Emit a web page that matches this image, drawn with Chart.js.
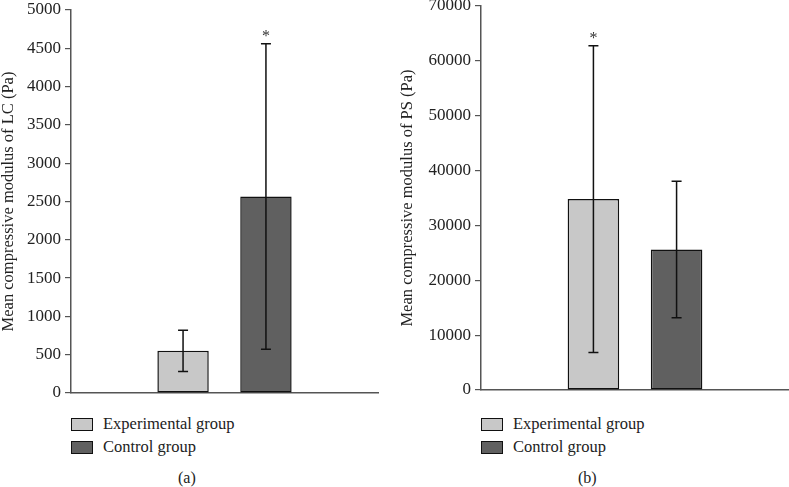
<!DOCTYPE html>
<html>
<head>
<meta charset="utf-8">
<script src="https://cdn.jsdelivr.net/npm/chart.js@4.4.1/dist/chart.umd.min.js"></script>
<style>
  html, body { margin: 0; padding: 0; background: #fff; }
  body { width: 789px; height: 487px; position: relative; overflow: hidden; font-family: 'Liberation Serif', serif; color: #222; }
  canvas { position: absolute; top: 0; }
  #chartA { left: 0; }
  #chartB { left: 390px; }
  .legend { position: absolute; font-size: 16.5px; }
  .legend .row { position: relative; height: 23px; }
  .legend .box { position: absolute; left: 0; top: 0; width: 22px; height: 13px; box-sizing: border-box; border: 1.5px solid #111; }
  .legend .txt { position: absolute; left: 32px; top: -4px; white-space: nowrap; }
  .caption { position: absolute; top: 469px; font-size: 16px; }
</style>
</head>
<body>
<canvas id="chartA" width="390" height="400"></canvas>
<canvas id="chartB" width="399" height="400"></canvas>
<div class="legend" id="legA" style="left:71px; top:418px;"></div>
<div class="legend" id="legB" style="left:481px; top:418px;"></div>
<div class="caption" style="left:178px;">(a)</div>
<div class="caption" style="left:578px;">(b)</div>
<script>
// groupes et couleurs
const groups = ['Experimental group', 'Control group'];
const colors = ['#c8c8c8', '#606060'];

// LC (panneau a)
const lcMeans = [550, 2565];
const lcSD = [268, 1995];
const lcStar = [false, true];

// PS (panneau b)
const psMeans = [34800, 25600];
const psSD = [27950, 12450];
const psStar = [true, false];

// Barres d'erreur + astérisque
const errorBars = {
    id: 'errorBars',
    afterDatasetsDraw(chart, args, opts) {
        const ctx = chart.ctx;
        const y = chart.scales.y;
        ctx.save();
        ctx.strokeStyle = '#111';
        ctx.lineWidth = 1.5;
        chart.data.datasets.forEach((ds, i) => {
            const bar = chart.getDatasetMeta(i).data[0];
            const x = bar.x;
            const top = y.getPixelForValue(opts.means[i] + opts.sd[i]);
            const bot = y.getPixelForValue(opts.means[i] - opts.sd[i]);
            ctx.beginPath();
            ctx.moveTo(x, top); ctx.lineTo(x, bot);
            ctx.moveTo(x - 5, top); ctx.lineTo(x + 5, top);
            ctx.moveTo(x - 5, bot); ctx.lineTo(x + 5, bot);
            ctx.stroke();
            if (opts.star[i]) {
                ctx.fillStyle = '#333';
                ctx.font = '16px "Liberation Serif"';
                ctx.textAlign = 'center';
                ctx.textBaseline = 'middle';
                ctx.fillText('*', x, top - 7);
            }
        });
        ctx.restore();
    }
};

function makeChart(id, means, sd, star, max, step, title, axisWidth, pad, titlePad) {
    const ctx = document.getElementById(id).getContext('2d');
    return new Chart(ctx, {
        type: 'bar',
        data: {
            labels: [''],
            datasets: groups.map((g, i) => ({
                label: g,
                data: [means[i]],
                backgroundColor: colors[i],
                borderColor: '#111',
                borderWidth: 1.5,
                borderSkipped: false,
                categoryPercentage: 0.54,
                barPercentage: 0.62
            }))
        },
        options: {
            responsive: false,
            animation: false,
            layout: { padding: pad },
            plugins: {
                legend: { display: false },
                tooltip: { enabled: false },
                errorBars: { means: means, sd: sd, star: star }
            },
            scales: {
                x: {
                    grid: { display: false },
                    ticks: { display: false },
                    border: { display: true, color: '#555', width: 1.5 },
                    afterFit: s => { s.height = 0; }
                },
                y: {
                    min: 0, max: max,
                    ticks: {
                        stepSize: step, color: '#222', padding: 4,
                        font: { family: 'Liberation Serif', size: 17 },
                        callback: v => String(v)
                    },
                    grid: { drawOnChartArea: false, drawTicks: true, tickLength: 6, color: '#555', lineWidth: 1.2 },
                    border: { display: true, color: '#555', width: 1.5 },
                    title: { display: true, text: title, color: '#222', padding: titlePad, font: { family: 'Liberation Serif', size: 16.5 } },
                    afterFit: s => { s.width = axisWidth; s.paddingTop = 0; s.paddingBottom = 0; }
                }
            }
        },
        plugins: [errorBars]
    });
}

makeChart('chartA', lcMeans, lcSD, lcStar, 5000, 500, 'Mean compressive modulus of LC (Pa)', 71,
    { top: 10, bottom: 7, left: 0, right: 12 }, { top: -1, bottom: 0 });
makeChart('chartB', psMeans, psSD, psStar, 70000, 10000, 'Mean compressive modulus of PS (Pa)', 91,
    { top: 6, bottom: 10, left: 0, right: 0 }, { top: 8, bottom: 0 });

// Légendes HTML
['legA', 'legB'].forEach(id => {
    const el = document.getElementById(id);
    groups.forEach((g, i) => {
        const row = document.createElement('div');
        row.className = 'row';
        row.innerHTML = `<div class="box" style="background:${colors[i]}"></div><div class="txt">${g}</div>`;
        el.appendChild(row);
    });
});
</script>
</body>
</html>
